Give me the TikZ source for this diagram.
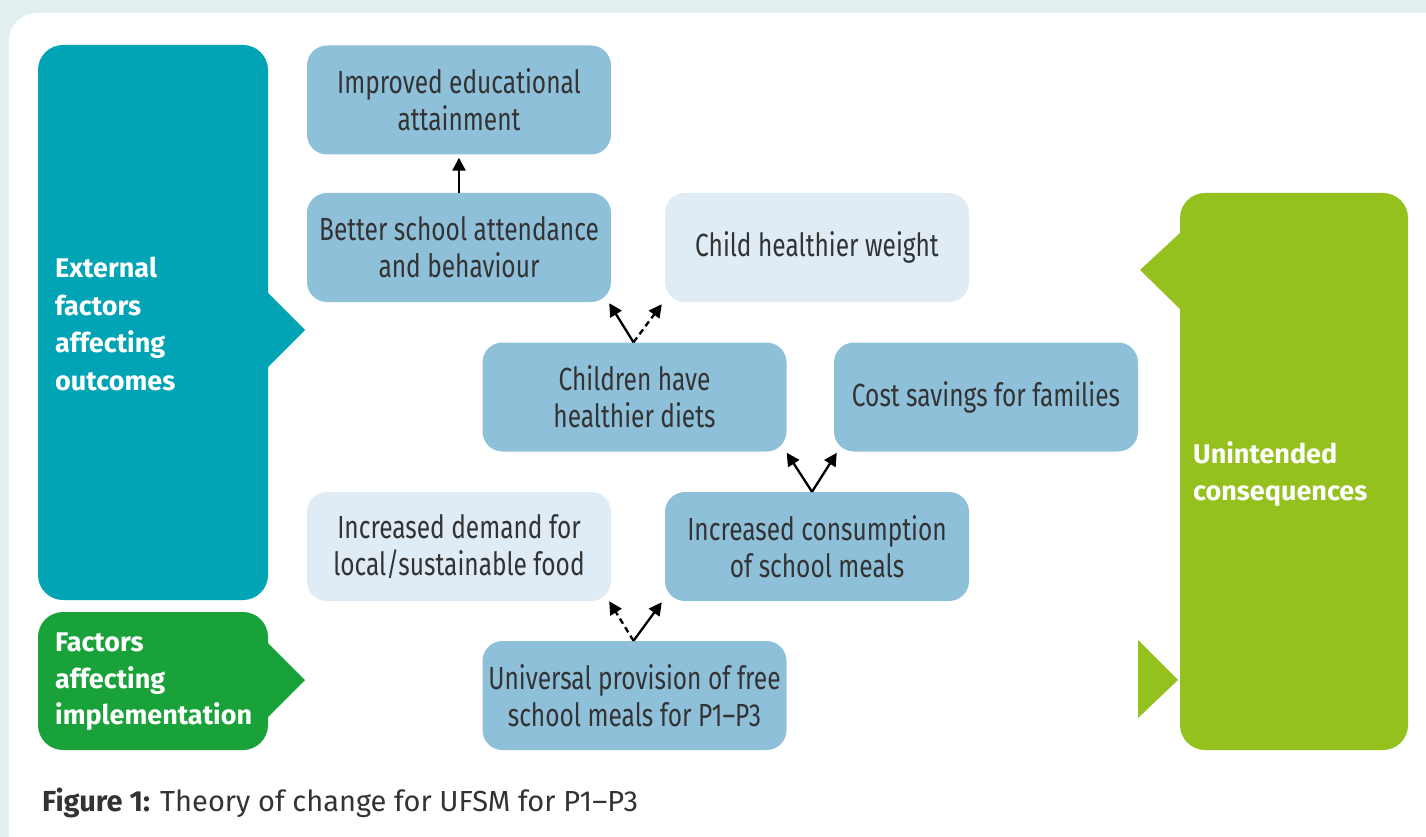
\documentclass[tikz,border=0pt]{standalone}
\usepackage{fontspec}
\setmainfont{Fira Sans}
\newfontfamily\boxfont[FakeStretch=0.765]{Fira Sans}
\newfontfamily\capfont{Fira Sans}
\usetikzlibrary{arrows.meta,calc}

\definecolor{pagebg}{HTML}{E3F0F0}
\definecolor{tealc}{HTML}{00A4B5}
\definecolor{greenc}{HTML}{1AA23A}
\definecolor{limec}{HTML}{95C11F}
\definecolor{midblue}{HTML}{8FC0DA}
\definecolor{paleblue}{HTML}{DFECF5}
\definecolor{inktext}{HTML}{333333}

\begin{document}
\begin{tikzpicture}[x=1pt,y=-1pt,
  outcome/.style={rounded corners=20pt, minimum width=304pt, minimum height=109pt,
    align=center, text=inktext, inner sep=0pt,
    font=\boxfont\fontsize{32}{37}\selectfont},
  midbox/.style={outcome, fill=midblue},
  palebox/.style={outcome, fill=paleblue},
  panel/.style={rounded corners=25pt, inner sep=0pt},
  paneltext/.style={anchor=west, align=left, text=white, inner sep=0pt,
    font=\bfseries\fontsize{27}{37.5}\selectfont},
  link/.style={line width=2.3pt, -{Triangle[length=13pt,width=13pt]}},
  maybe/.style={link, dash pattern=on 6pt off 4pt},
]
\useasboundingbox (0,0) rectangle (1426,837);
\clip (0,0) rectangle (1426,837);
\fill[pagebg] (0,0) rectangle (1426,837);
\fill[white, rounded corners=28pt] (9,13) rectangle (1470,880);

% side panels
\node[panel, fill=tealc, minimum width=230pt, minimum height=555pt] (ext) at (153,322.5) {};
\fill[tealc] (267,292) -- (305,330) -- (267,368) -- cycle;
\node[paneltext] (extlbl) at (55,324) {External\\factors\\affecting\\outcomes};

\node[panel, fill=greenc, minimum width=230pt, minimum height=138pt] (impl) at (153,681) {};
\fill[greenc] (267,642) -- (305,680) -- (267,718) -- cycle;
\node[paneltext, font=\bfseries\fontsize{27}{36.5}\selectfont] (impllbl) at (55,682) {Factors\\affecting\\implementation};

\node[panel, fill=limec, minimum width=228pt, minimum height=557pt] (unint) at (1294,471.5) {};
\fill[limec] (1181,232) -- (1140,270) -- (1181,310) -- cycle;
\fill[limec] (1138,640) -- (1178,680) -- (1138,718) -- cycle;
\node[paneltext] (unintlbl) at (1193,474) {Unintended\\consequences};

% outcome boxes
\node[midbox]  (imp)    at (459,100)   {Improved educational\\attainment};
\node[midbox]  (att)    at (459,247.5) {Better school attendance\\and behaviour};
\node[palebox] (weight) at (817,247.5) {Child healthier weight};
\node[midbox]  (diets)  at (634.5,397) {Children have\\healthier diets};
\node[midbox]  (cost)   at (986,397)   {Cost savings for families};
\node[palebox] (demand) at (459,546.5) {Increased demand for\\local/sustainable food};
\node[midbox]  (cons)   at (817,546.5) {Increased consumption\\of school meals};
\node[midbox]  (univ)   at (634.5,695.5) {Universal provision of free\\school meals for P1–P3};

% links
\draw[link]  (att.north) -- ($(imp.south)+(0,3)$);
\draw[link]  ($(diets.north)+(-1,0)$) -- ($(att.south east)+(-2,1)$);
\draw[maybe] ($(diets.north)+(-1,0)$) -- ($(weight.south west)+(-3,2)$);
\draw[link]  ($(cons.north)+(-5,0)$) -- ($(diets.south east)+(0,1)$);
\draw[link]  ($(cons.north)+(-5,0)$) -- ($(cost.south west)+(3,1)$);
\draw[maybe] ($(univ.north)+(-1,0)$) -- ($(demand.south east)+(-2,0)$);
\draw[link]  ($(univ.north)+(-1,0)$) -- ($(cons.south west)+(-3,1)$);

% caption
\node[anchor=base west, inner sep=0pt, text=inktext, font=\capfont\fontsize{29}{32}\selectfont]
  (caption) at (42,811) {\textbf{Figure 1:} Theory of change for UFSM for P1–P3};
\end{tikzpicture}
\end{document}
